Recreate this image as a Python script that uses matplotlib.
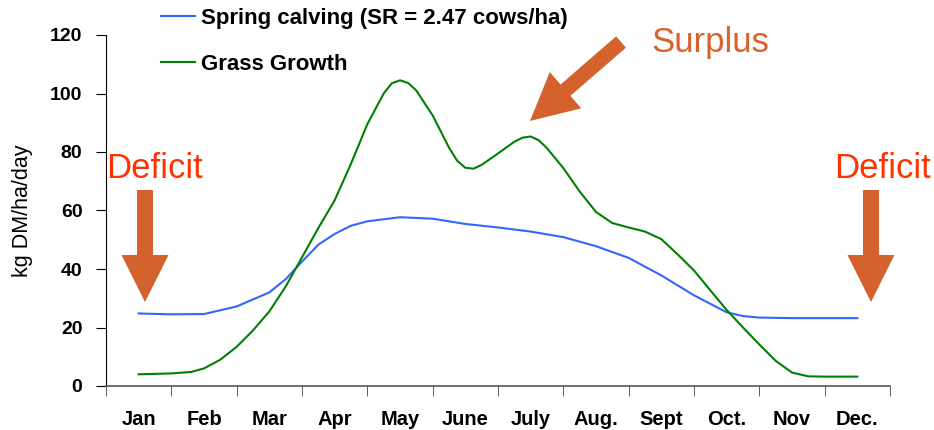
import numpy as np
import matplotlib.pyplot as plt
from matplotlib.patches import FancyArrow

plt.rcParams['font.family'] = ['Liberation Sans', 'DejaVu Sans']

months = ["Jan", "Feb", "Mar", "Apr", "May", "June", "July", "Aug.", "Sept", "Oct.", "Nov", "Dec."]

# readings, x in month index (0 = mid Jan)
calving_x = [0, 0.5, 1, 1.5, 2, 2.25, 2.5, 2.75, 3, 3.25, 3.5, 4, 4.5, 5, 5.5, 6, 6.5, 7, 7.5, 8, 8.5,
             9, 9.25, 9.5, 10, 10.5, 11]
calving_y = [24.8, 24.5, 24.6, 27.2, 32, 36.5, 42.5, 48.3, 52, 54.8, 56.3, 57.7, 57.2, 55.4, 54.2, 52.8,
             50.9, 47.8, 43.8, 37.8, 31, 25.2, 23.9, 23.4, 23.2, 23.2, 23.2]

grass_x = [0, 0.5, 0.8, 1, 1.25, 1.5, 1.75, 2, 2.25, 2.5, 2.75, 3, 3.25, 3.5, 3.75, 3.875, 4, 4.125,
           4.25, 4.5, 4.75, 4.875, 5, 5.125, 5.25, 5.5, 5.75, 5.875, 6, 6.125, 6.25, 6.5, 6.75, 7, 7.25,
           7.5, 7.75, 8, 8.25, 8.5, 8.75, 9, 9.25, 9.5, 9.75, 10, 10.25, 10.5, 11]
grass_y = [4.0, 4.3, 4.8, 6.0, 9.0, 13.4, 19.0, 25.5, 34.0, 44.0, 54.0, 63.5, 76.0, 89.5, 100.0, 103.5,
           104.5, 103.6, 101.0, 92.5, 81.5, 77.0, 74.6, 74.3, 75.6, 79.5, 83.5, 84.9, 85.3, 84.0, 81.3,
           74.5, 66.5, 59.5, 55.7, 54.2, 52.8, 50.2, 45.0, 39.5, 32.7, 26.0, 20.0, 14.2, 8.6, 4.6, 3.3,
           3.2, 3.2]

fig = plt.figure(figsize=(9.34, 4.3), dpi=100)
ax = fig.add_axes([106 / 934, 44 / 430, 784 / 934, 351 / 430])

ax.plot(calving_x, calving_y, color="#3366FF", linewidth=1.5, label="Spring calving (SR = 2.47 cows/ha)")
ax.plot(grass_x, grass_y, color="#008000", linewidth=1.5, label="Grass Growth")

ax.set_xlim(-0.5, 11.5)
ax.set_ylim(0, 120)
ax.set_yticks(np.arange(0, 121, 20))
ax.set_xticks(np.arange(12))
ax.set_xticklabels(months, fontsize=14.5, fontweight="bold")
ax.set_xticks(np.arange(-0.5, 12, 1), minor=True)
ax.tick_params(axis="x", which="major", length=0, pad=17)
ax.tick_params(axis="x", which="minor", length=7, direction="out", color="#444444")
ax.tick_params(axis="y", length=7, direction="out", labelsize=14, pad=10)
for lbl in ax.get_yticklabels():
    lbl.set_fontweight("bold")
ax.set_ylabel("kg DM/ha/day", fontsize=15.5, labelpad=12)

for s in ["top", "right"]:
    ax.spines[s].set_visible(False)
ax.spines["bottom"].set_color("#555555")
ax.spines["bottom"].set_linewidth(1.2)

ax.legend(loc="upper left", bbox_to_anchor=(0.045, 1.135), frameon=False, handlelength=1.5,
          handletextpad=0.3, labelspacing=1.15, prop={"weight": "bold", "size": 16})

# annotations (pixel positions converted to inches)
def px(x, y):
    return x / 100, (430 - y) / 100

arrow_col = "#D3622D"
for xa in [145, 871]:
    x0, y0 = px(xa, 190)
    x1, y1 = px(xa, 302)
    fig.patches.append(FancyArrow(x0, y0, x1 - x0, y1 - y0, width=0.16, head_width=0.47, head_length=0.47,
                                  length_includes_head=True, color=arrow_col, lw=0,
                                  transform=fig.dpi_scale_trans, figure=fig))
x0, y0 = px(621, 42)
x1, y1 = px(530, 121)
fig.patches.append(FancyArrow(x0, y0, x1 - x0, y1 - y0, width=0.15, head_width=0.48, head_length=0.47,
                              length_includes_head=True, color=arrow_col, lw=0,
                              transform=fig.dpi_scale_trans, figure=fig))

fig.text(106 / 934, (430 - 178) / 430, "Deficit", color="#FF3300", fontsize=25, ha="left", va="baseline")
fig.text(931 / 934, (430 - 178) / 430, "Deficit", color="#FF3300", fontsize=25, ha="right", va="baseline")
fig.text(651 / 934, (430 - 52) / 430, "Surplus", color="#D9622B", fontsize=25, ha="left", va="baseline")

fig.savefig("out.png", dpi=100)
